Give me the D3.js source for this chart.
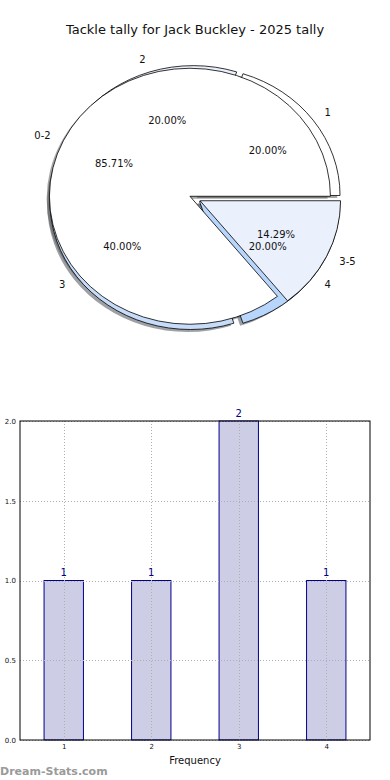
<!DOCTYPE html>
<html>
<head>
<meta charset="utf-8">
<script src="https://cdn.jsdelivr.net/npm/d3@7"></script>
<style>
  html, body { margin: 0; padding: 0; background: #fff; }
  svg { display: block; font-family: "DejaVu Sans", sans-serif; }
</style>
</head>
<body>
<svg id="chart" width="390" height="780"></svg>
<script>
// ---- data ----
const titleText = "Tackle tally for Jack Buckley - 2025 tally";
const tackleLabels = ["1", "2", "3", "4"];
const tackleCounts = [1, 1, 2, 1];
const groupLabels = ["0-2", "3-5"];
const groupCounts = [6, 1];
const sliceColors = ["#ffffff", "#eaf1fd", "#c6dcf9", "#b8d5fb"];
const barCategories = [1, 2, 3, 4];
const barValues = [1, 1, 2, 1];
const yTickValues = [0, 0.5, 1.0, 1.5, 2.0];
const xAxisLabel = "Frequency";
const watermark = "Dream-Stats.com";

const svg = d3.select("#chart");

// title
svg.append("text").attr("x", 195).attr("y", 34).attr("text-anchor", "middle")
  .attr("font-size", 13).attr("fill", "#111").text(titleText);

// ---- pies ----
const cx = 195, cy = 198.5, sx = 140.5, sy = 128;
const explode = 0.04;
const arcGen = d3.arc().innerRadius(0).outerRadius(1);
const pieGen = d3.pie().sort(null).value(d => d).startAngle(Math.PI / 2).endAngle(Math.PI / 2 - 2 * Math.PI);

const shadowLayer = svg.append("g");
const wedgeLayerA = svg.append("g");
const wedgeLayerB = svg.append("g");
const textLayer = svg.append("g").attr("font-size", 10).attr("fill", "#111");

function drawPie(values, labels, wedgeLayer) {
  const total = d3.sum(values);
  const arcs = pieGen(values);
  arcs.forEach((a, i) => {
    const mid = (a.startAngle + a.endAngle) / 2;
    const ux = Math.sin(mid), uy = -Math.cos(mid);
    const ox = cx + explode * ux * sx, oy = cy + explode * uy * sy;
    const col = d3.rgb(sliceColors[i % sliceColors.length]);
    const shadowCol = d3.rgb(col.r * 0.3, col.g * 0.3, col.b * 0.3);
    shadowLayer.append("path")
      .attr("d", arcGen(a))
      .attr("transform", `translate(${ox - 0.02 * sx},${oy + 0.02 * sy}) scale(${sx},${sy})`)
      .attr("fill", shadowCol.toString()).attr("fill-opacity", 0.5);
    wedgeLayer.append("path")
      .attr("d", arcGen(a))
      .attr("transform", `translate(${ox},${oy}) scale(${sx},${sy})`)
      .attr("fill", col.toString())
      .attr("stroke", "#000").attr("stroke-width", 0.8)
      .attr("vector-effect", "non-scaling-stroke")
      .attr("stroke-linejoin", "miter");
    const lx = ox + 1.1 * ux * sx, ly = oy + 1.1 * uy * sy;
    textLayer.append("text").attr("x", lx).attr("y", ly).attr("dy", "0.36em")
      .attr("text-anchor", (lx - cx) > 0 ? "start" : "end").text(labels[i]);
    const px = ox + 0.6 * ux * sx, py = oy + 0.6 * uy * sy;
    textLayer.append("text").attr("x", px).attr("y", py).attr("dy", "0.36em")
      .attr("text-anchor", "middle").text(d3.format(".2f")(values[i] / total * 100) + "%");
  });
}
drawPie(tackleCounts, tackleLabels, wedgeLayerA);
drawPie(groupCounts, groupLabels, wedgeLayerB);

// ---- bar chart ----
const plotLeft = 20, plotRight = 370, plotTop = 421, plotBottom = 740;
const x = d3.scaleLinear().domain([0.5, 4.5]).range([plotLeft, plotRight]);
const y = d3.scaleLinear().domain([0, 2]).range([plotBottom, plotTop]);
const barW = 0.45;
svg.append("g").selectAll("rect").data(barValues).join("rect")
  .attr("x", (d, i) => x(barCategories[i] - barW / 2))
  .attr("y", d => y(d))
  .attr("width", (d, i) => x(barCategories[i] + barW / 2) - x(barCategories[i] - barW / 2))
  .attr("height", d => y(0) - y(d))
  .attr("fill", "#cdcde6").attr("stroke", "#00008b").attr("stroke-width", 1);

// grid
const grid = svg.append("g").attr("stroke", "#b0b0b0").attr("stroke-width", 1).attr("stroke-dasharray", "1,2");
grid.selectAll("line.gx").data(barCategories).join("line").attr("class", "gx")
  .attr("x1", d => Math.round(x(d)) + 0.5).attr("x2", d => Math.round(x(d)) + 0.5)
  .attr("y1", plotTop).attr("y2", plotBottom);
grid.selectAll("line.gy").data(yTickValues).join("line").attr("class", "gy")
  .attr("y1", d => Math.round(y(d)) + 0.5).attr("y2", d => Math.round(y(d)) + 0.5)
  .attr("x1", plotLeft).attr("x2", plotRight);

// frame
svg.append("rect").attr("x", plotLeft).attr("y", plotTop).attr("width", plotRight - plotLeft).attr("height", plotBottom - plotTop)
  .attr("fill", "none").attr("stroke", "#000").attr("stroke-width", 1);

// value labels
svg.append("g").selectAll("text").data(barValues).join("text")
  .attr("x", (d, i) => x(barCategories[i]))
  .attr("y", d => y(d) - 4.5)
  .attr("text-anchor", "middle").attr("font-size", 10).attr("fill", "#00008b")
  .text(d => d);

// axes tick labels
const yAxis = d3.axisLeft(y).tickValues(yTickValues).tickFormat(d3.format(".1f")).tickSize(0).tickPadding(4);
const gy = svg.append("g").attr("transform", `translate(${plotLeft},0)`).call(yAxis);
gy.select(".domain").remove();
gy.selectAll("text").attr("font-size", 7).attr("fill", "#111").attr("font-family", "DejaVu Sans");

const xAxis = d3.axisBottom(x).tickValues(barCategories).tickFormat(d3.format("d")).tickSize(0).tickPadding(4);
const gx = svg.append("g").attr("transform", `translate(0,${plotBottom})`).call(xAxis);
gx.select(".domain").remove();
gx.selectAll("text").attr("font-size", 7).attr("fill", "#111").attr("font-family", "DejaVu Sans");

svg.append("text").attr("x", (plotLeft + plotRight) / 2).attr("y", 764).attr("text-anchor", "middle")
  .attr("font-size", 10).attr("fill", "#111").text(xAxisLabel);

svg.append("text").attr("x", 0).attr("y", 775).attr("font-size", 11).attr("font-weight", "bold")
  .attr("fill", "#9a9a9a").text(watermark);
</script>
</body>
</html>
